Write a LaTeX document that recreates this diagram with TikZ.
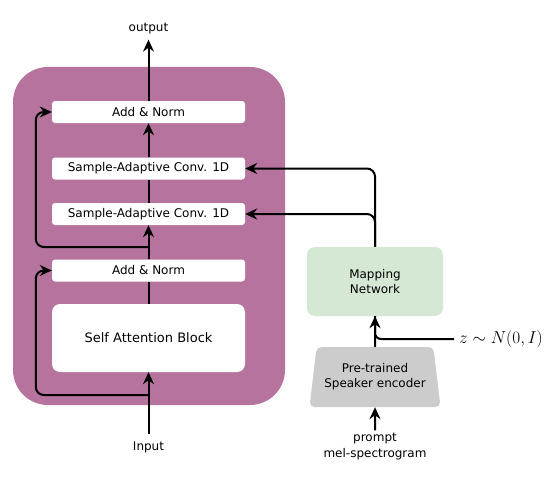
\documentclass[tikz,border=0pt]{standalone}
\usepackage{fontspec}
\setmainfont{DejaVu Sans}
\usepackage{tikz}
\usetikzlibrary{arrows.meta,positioning,calc,shapes.geometric}
\definecolor{blkpurple}{HTML}{B5739D}
\definecolor{mapgreen}{HTML}{D5E8D4}
\definecolor{encgrey}{HTML}{CCCCCC}
\tikzset{
  blk/.style  = {rectangle, rounded corners=35pt, fill=blkpurple,
                 minimum width=272pt, minimum height=338pt},
  lay/.style  = {rectangle, rounded corners=3pt, fill=white,
                 minimum width=193pt, minimum height=22pt,
                 font=\fontsize{12}{14}\selectfont, inner sep=1pt},
  mapn/.style = {rectangle, rounded corners=8pt, fill=mapgreen,
                 minimum width=136pt, minimum height=69pt,
                 font=\fontsize{12}{15}\selectfont, align=center},
  enc/.style  = {trapezium, trapezium left angle=75, trapezium right angle=75,
                 trapezium stretches body, rounded corners=5pt, fill=encgrey,
                 minimum width=131pt, minimum height=60pt, inner sep=0pt,
                 font=\fontsize{12}{15}\selectfont, align=center},
  lbl/.style  = {font=\fontsize{12}{16}\selectfont, align=center, inner sep=5pt},
  arr/.style  = {-{Stealth[length=12pt,width=11pt,inset=4pt]}, line width=2pt},
  ln/.style   = {line width=2pt},
}
\begin{document}
\begin{tikzpicture}[x=1pt,y=-1pt]
  \useasboundingbox (0,0) rectangle (557,487);
  % encoder block
  \node[blk] (blk) at (149,236) {};
  \node[lay] (an2) at (148.5,112) {Add \& Norm};
  \node[lay] (sac1) at (148.5,168.5) {Sample-Adaptive Conv. 1D};
  \node[lay] (sac2) at (148.5,214) {Sample-Adaptive Conv. 1D};
  \node[lay] (an1) at (148.5,270.5) {Add \& Norm};
  \node[lay, minimum height=68pt, rounded corners=8pt, font=\fontsize{13}{15}\selectfont] (sab) at (148.5,338) {Self Attention Block};
  \node[lbl] (out) at (148.5,29) {output};
  \node[lbl, inner sep=7pt] (inp) at (148.5,447) {Input};
  % speaker side
  \node[mapn] (map) at (375,281.5) {Mapping\\Network};
  \node[enc] (spk) at (375,377) {Pre-trained\\Speaker encoder};
  \node[lbl, inner sep=3pt] (prm) at (375,447) {prompt\\mel-spectrogram};
  \node[lbl, anchor=west, font=\fontsize{16}{19}\selectfont, inner sep=5pt] (zl) at (454,339) {$z\sim N(0,I)$};
  \coordinate (s1) at (148.5,395);
  \coordinate (s2) at (148.5,247);
  % main path
  \draw[arr] (inp.north) -- (sab.south);
  \draw[ln] (sab.north) -- (an1.south);
  \draw[arr] (an1.north) -- (sac2.south);
  \draw[ln] (sac2.north) -- (sac1.south);
  \draw[arr] (sac1.north) -- (an2.south);
  \draw[arr] (an2.north) -- (out.south);
  % residuals
  \draw[arr, rounded corners=8pt] (s1) -| ($(an1.west)+(-16,0)$) -- (an1.west);
  \draw[arr, rounded corners=8pt] (s2) -| ($(an2.west)+(-16,0)$) -- (an2.west);
  % conditioning
  \draw[arr, rounded corners=8pt] (map.north) |- (sac1.east);
  \draw[arr, rounded corners=8pt] (map.north) |- (sac2.east);
  \draw[arr] (spk.north) -- (map.south);
  \draw[ln, rounded corners=6pt] (zl.west) -| (map.south);
  \draw[arr] (prm.north) -- (spk.south);
\end{tikzpicture}
\end{document}
